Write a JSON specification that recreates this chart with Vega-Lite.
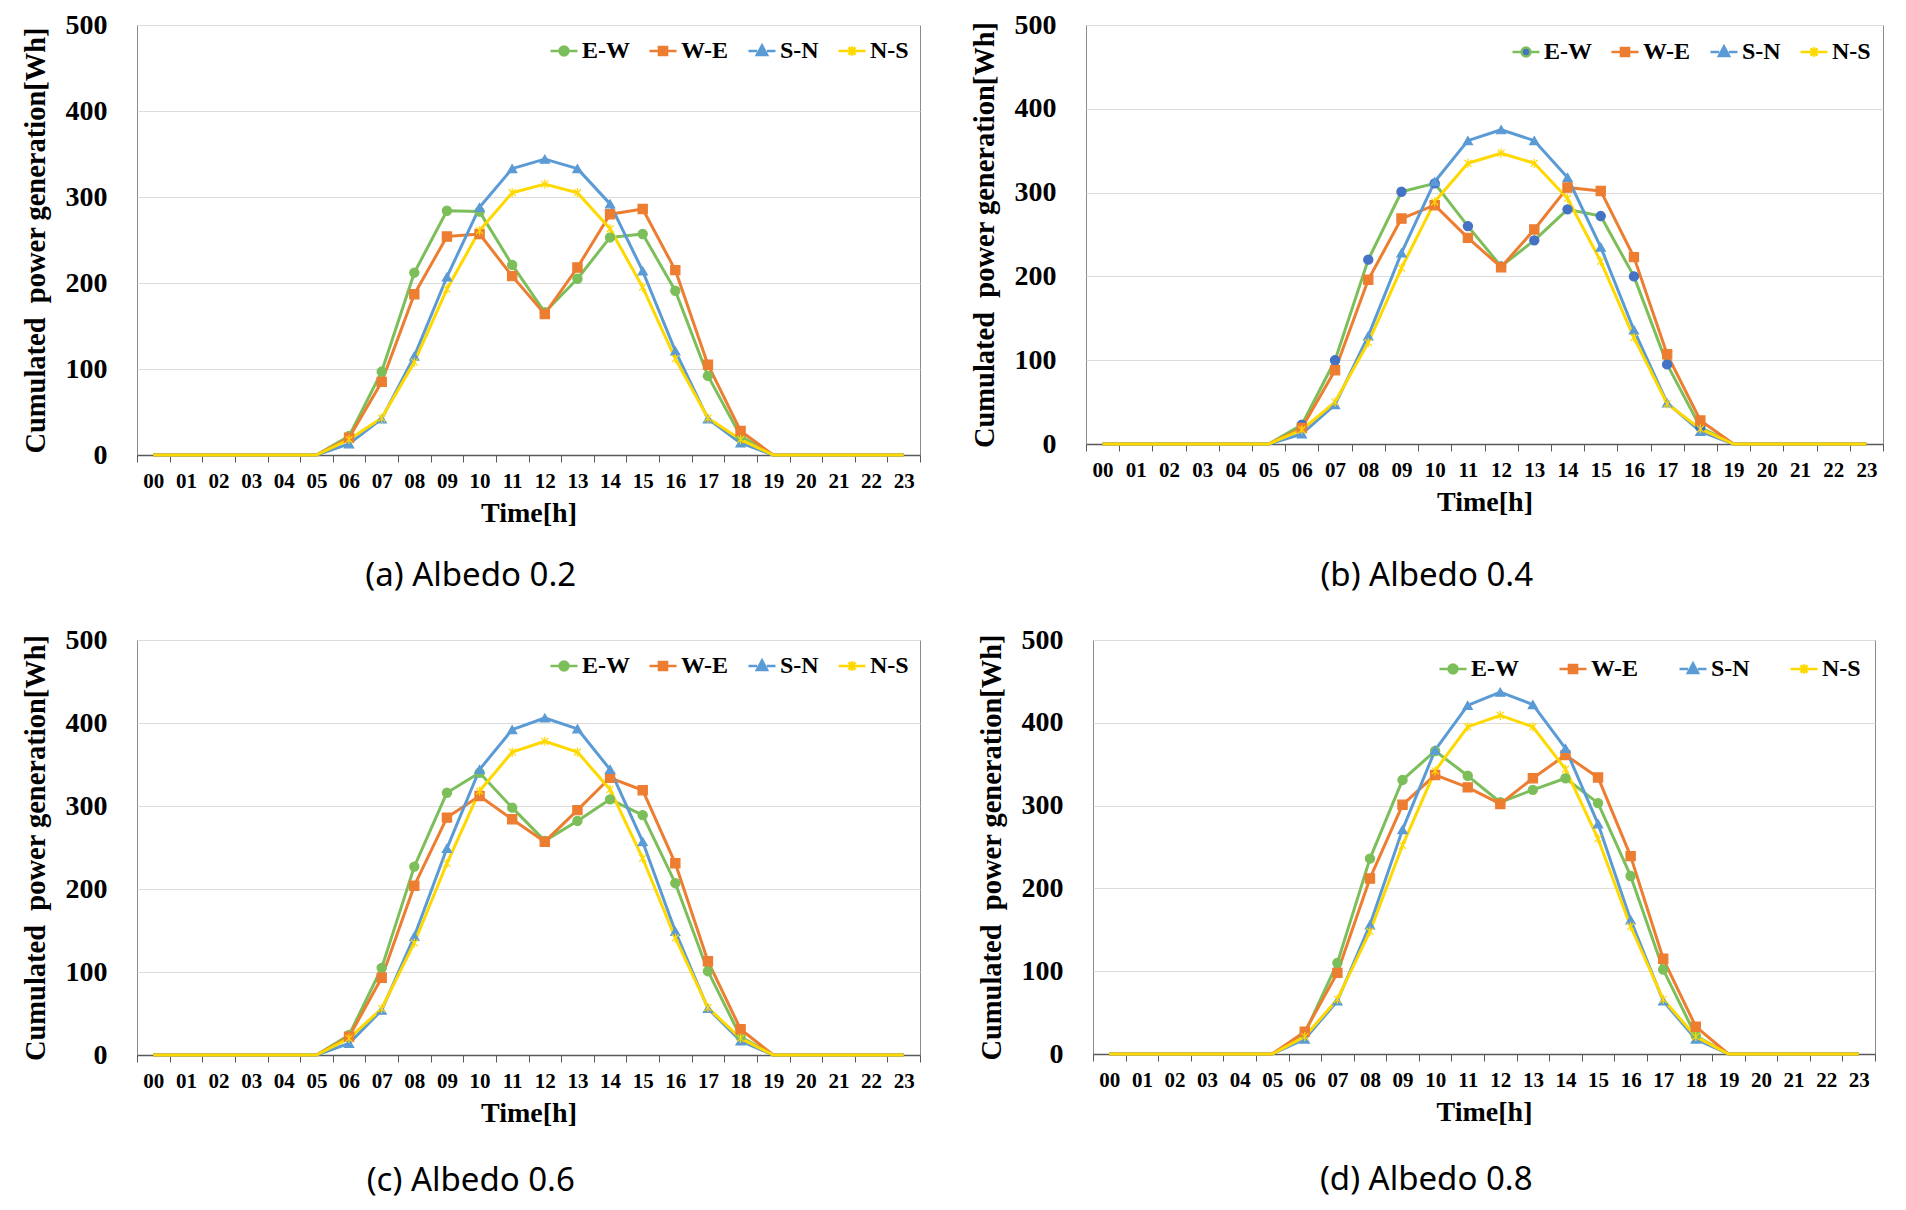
{
  "$schema": "https://vega.github.io/schema/vega-lite/v6.json",
  "background": "white",
  "padding": {"left": 20, "top": 10, "right": 5, "bottom": 5},
  "datasets": {
    "pv": [
      {"panel": "a", "hour": "00", "E-W": 0, "W-E": 0, "S-N": 0, "N-S": 0},
      {"panel": "a", "hour": "01", "E-W": 0, "W-E": 0, "S-N": 0, "N-S": 0},
      {"panel": "a", "hour": "02", "E-W": 0, "W-E": 0, "S-N": 0, "N-S": 0},
      {"panel": "a", "hour": "03", "E-W": 0, "W-E": 0, "S-N": 0, "N-S": 0},
      {"panel": "a", "hour": "04", "E-W": 0, "W-E": 0, "S-N": 0, "N-S": 0},
      {"panel": "a", "hour": "05", "E-W": 0, "W-E": 0, "S-N": 0, "N-S": 0},
      {"panel": "a", "hour": "06", "E-W": 22, "W-E": 20, "S-N": 13, "N-S": 18},
      {"panel": "a", "hour": "07", "E-W": 97, "W-E": 85, "S-N": 42, "N-S": 43},
      {"panel": "a", "hour": "08", "E-W": 212, "W-E": 187, "S-N": 115, "N-S": 108},
      {"panel": "a", "hour": "09", "E-W": 284, "W-E": 254, "S-N": 207, "N-S": 193},
      {"panel": "a", "hour": "10", "E-W": 283, "W-E": 257, "S-N": 288, "N-S": 261},
      {"panel": "a", "hour": "11", "E-W": 221, "W-E": 208, "S-N": 333, "N-S": 305},
      {"panel": "a", "hour": "12", "E-W": 166, "W-E": 164, "S-N": 344, "N-S": 315},
      {"panel": "a", "hour": "13", "E-W": 205, "W-E": 218, "S-N": 333, "N-S": 305},
      {"panel": "a", "hour": "14", "E-W": 253, "W-E": 280, "S-N": 292, "N-S": 263},
      {"panel": "a", "hour": "15", "E-W": 257, "W-E": 286, "S-N": 214, "N-S": 195},
      {"panel": "a", "hour": "16", "E-W": 191, "W-E": 215, "S-N": 121, "N-S": 112},
      {"panel": "a", "hour": "17", "E-W": 92, "W-E": 105, "S-N": 42, "N-S": 43},
      {"panel": "a", "hour": "18", "E-W": 22, "W-E": 28, "S-N": 14, "N-S": 18},
      {"panel": "a", "hour": "19", "E-W": 0, "W-E": 0, "S-N": 0, "N-S": 0},
      {"panel": "a", "hour": "20", "E-W": 0, "W-E": 0, "S-N": 0, "N-S": 0},
      {"panel": "a", "hour": "21", "E-W": 0, "W-E": 0, "S-N": 0, "N-S": 0},
      {"panel": "a", "hour": "22", "E-W": 0, "W-E": 0, "S-N": 0, "N-S": 0},
      {"panel": "a", "hour": "23", "E-W": 0, "W-E": 0, "S-N": 0, "N-S": 0},
      {"panel": "b", "hour": "00", "E-W": 0, "W-E": 0, "S-N": 0, "N-S": 0},
      {"panel": "b", "hour": "01", "E-W": 0, "W-E": 0, "S-N": 0, "N-S": 0},
      {"panel": "b", "hour": "02", "E-W": 0, "W-E": 0, "S-N": 0, "N-S": 0},
      {"panel": "b", "hour": "03", "E-W": 0, "W-E": 0, "S-N": 0, "N-S": 0},
      {"panel": "b", "hour": "04", "E-W": 0, "W-E": 0, "S-N": 0, "N-S": 0},
      {"panel": "b", "hour": "05", "E-W": 0, "W-E": 0, "S-N": 0, "N-S": 0},
      {"panel": "b", "hour": "06", "E-W": 23, "W-E": 19, "S-N": 12, "N-S": 17},
      {"panel": "b", "hour": "07", "E-W": 100, "W-E": 88, "S-N": 47, "N-S": 50},
      {"panel": "b", "hour": "08", "E-W": 220, "W-E": 196, "S-N": 129, "N-S": 121},
      {"panel": "b", "hour": "09", "E-W": 301, "W-E": 269, "S-N": 228, "N-S": 210},
      {"panel": "b", "hour": "10", "E-W": 311, "W-E": 285, "S-N": 313, "N-S": 289},
      {"panel": "b", "hour": "11", "E-W": 260, "W-E": 246, "S-N": 362, "N-S": 335},
      {"panel": "b", "hour": "12", "E-W": 212, "W-E": 211, "S-N": 375, "N-S": 347},
      {"panel": "b", "hour": "13", "E-W": 243, "W-E": 256, "S-N": 362, "N-S": 335},
      {"panel": "b", "hour": "14", "E-W": 280, "W-E": 306, "S-N": 318, "N-S": 293},
      {"panel": "b", "hour": "15", "E-W": 272, "W-E": 302, "S-N": 235, "N-S": 218},
      {"panel": "b", "hour": "16", "E-W": 200, "W-E": 223, "S-N": 136, "N-S": 127},
      {"panel": "b", "hour": "17", "E-W": 95, "W-E": 107, "S-N": 49, "N-S": 48},
      {"panel": "b", "hour": "18", "E-W": 20, "W-E": 28, "S-N": 15, "N-S": 18},
      {"panel": "b", "hour": "19", "E-W": 0, "W-E": 0, "S-N": 0, "N-S": 0},
      {"panel": "b", "hour": "20", "E-W": 0, "W-E": 0, "S-N": 0, "N-S": 0},
      {"panel": "b", "hour": "21", "E-W": 0, "W-E": 0, "S-N": 0, "N-S": 0},
      {"panel": "b", "hour": "22", "E-W": 0, "W-E": 0, "S-N": 0, "N-S": 0},
      {"panel": "b", "hour": "23", "E-W": 0, "W-E": 0, "S-N": 0, "N-S": 0},
      {"panel": "c", "hour": "00", "E-W": 0, "W-E": 0, "S-N": 0, "N-S": 0},
      {"panel": "c", "hour": "01", "E-W": 0, "W-E": 0, "S-N": 0, "N-S": 0},
      {"panel": "c", "hour": "02", "E-W": 0, "W-E": 0, "S-N": 0, "N-S": 0},
      {"panel": "c", "hour": "03", "E-W": 0, "W-E": 0, "S-N": 0, "N-S": 0},
      {"panel": "c", "hour": "04", "E-W": 0, "W-E": 0, "S-N": 0, "N-S": 0},
      {"panel": "c", "hour": "05", "E-W": 0, "W-E": 0, "S-N": 0, "N-S": 0},
      {"panel": "c", "hour": "06", "E-W": 24, "W-E": 22, "S-N": 14, "N-S": 20},
      {"panel": "c", "hour": "07", "E-W": 105, "W-E": 93, "S-N": 54, "N-S": 56},
      {"panel": "c", "hour": "08", "E-W": 227, "W-E": 204, "S-N": 143, "N-S": 135},
      {"panel": "c", "hour": "09", "E-W": 316, "W-E": 286, "S-N": 249, "N-S": 231},
      {"panel": "c", "hour": "10", "E-W": 340, "W-E": 312, "S-N": 344, "N-S": 318},
      {"panel": "c", "hour": "11", "E-W": 298, "W-E": 284, "S-N": 392, "N-S": 365},
      {"panel": "c", "hour": "12", "E-W": 258, "W-E": 257, "S-N": 406, "N-S": 378},
      {"panel": "c", "hour": "13", "E-W": 282, "W-E": 295, "S-N": 393, "N-S": 365},
      {"panel": "c", "hour": "14", "E-W": 308, "W-E": 334, "S-N": 344, "N-S": 320},
      {"panel": "c", "hour": "15", "E-W": 289, "W-E": 319, "S-N": 257, "N-S": 237},
      {"panel": "c", "hour": "16", "E-W": 207, "W-E": 231, "S-N": 149, "N-S": 141},
      {"panel": "c", "hour": "17", "E-W": 101, "W-E": 113, "S-N": 56, "N-S": 57},
      {"panel": "c", "hour": "18", "E-W": 22, "W-E": 31, "S-N": 17, "N-S": 20},
      {"panel": "c", "hour": "19", "E-W": 0, "W-E": 0, "S-N": 0, "N-S": 0},
      {"panel": "c", "hour": "20", "E-W": 0, "W-E": 0, "S-N": 0, "N-S": 0},
      {"panel": "c", "hour": "21", "E-W": 0, "W-E": 0, "S-N": 0, "N-S": 0},
      {"panel": "c", "hour": "22", "E-W": 0, "W-E": 0, "S-N": 0, "N-S": 0},
      {"panel": "c", "hour": "23", "E-W": 0, "W-E": 0, "S-N": 0, "N-S": 0},
      {"panel": "d", "hour": "00", "E-W": 0, "W-E": 0, "S-N": 0, "N-S": 0},
      {"panel": "d", "hour": "01", "E-W": 0, "W-E": 0, "S-N": 0, "N-S": 0},
      {"panel": "d", "hour": "02", "E-W": 0, "W-E": 0, "S-N": 0, "N-S": 0},
      {"panel": "d", "hour": "03", "E-W": 0, "W-E": 0, "S-N": 0, "N-S": 0},
      {"panel": "d", "hour": "04", "E-W": 0, "W-E": 0, "S-N": 0, "N-S": 0},
      {"panel": "d", "hour": "05", "E-W": 0, "W-E": 0, "S-N": 0, "N-S": 0},
      {"panel": "d", "hour": "06", "E-W": 25, "W-E": 27, "S-N": 18, "N-S": 21},
      {"panel": "d", "hour": "07", "E-W": 110, "W-E": 98, "S-N": 64, "N-S": 66},
      {"panel": "d", "hour": "08", "E-W": 236, "W-E": 212, "S-N": 156, "N-S": 148},
      {"panel": "d", "hour": "09", "E-W": 331, "W-E": 301, "S-N": 271, "N-S": 252},
      {"panel": "d", "hour": "10", "E-W": 366, "W-E": 337, "S-N": 367, "N-S": 342},
      {"panel": "d", "hour": "11", "E-W": 336, "W-E": 322, "S-N": 421, "N-S": 395},
      {"panel": "d", "hour": "12", "E-W": 304, "W-E": 302, "S-N": 437, "N-S": 409},
      {"panel": "d", "hour": "13", "E-W": 319, "W-E": 333, "S-N": 422, "N-S": 395},
      {"panel": "d", "hour": "14", "E-W": 333, "W-E": 361, "S-N": 369, "N-S": 344},
      {"panel": "d", "hour": "15", "E-W": 303, "W-E": 334, "S-N": 278, "N-S": 260},
      {"panel": "d", "hour": "16", "E-W": 215, "W-E": 239, "S-N": 162, "N-S": 154},
      {"panel": "d", "hour": "17", "E-W": 102, "W-E": 115, "S-N": 64, "N-S": 66},
      {"panel": "d", "hour": "18", "E-W": 22, "W-E": 33, "S-N": 18, "N-S": 21},
      {"panel": "d", "hour": "19", "E-W": 0, "W-E": 0, "S-N": 0, "N-S": 0},
      {"panel": "d", "hour": "20", "E-W": 0, "W-E": 0, "S-N": 0, "N-S": 0},
      {"panel": "d", "hour": "21", "E-W": 0, "W-E": 0, "S-N": 0, "N-S": 0},
      {"panel": "d", "hour": "22", "E-W": 0, "W-E": 0, "S-N": 0, "N-S": 0},
      {"panel": "d", "hour": "23", "E-W": 0, "W-E": 0, "S-N": 0, "N-S": 0}
    ]
  },
  "spacing": 31,
  "vconcat": [
    {
      "spacing": 48,
      "hconcat": [
        {
          "width": 783, "height": 430,
          "data": {"name": "pv"},
          "transform": [
            {"filter": "datum.panel == 'a'"},
            {"fold": ["E-W", "W-E", "S-N", "N-S"], "as": ["series", "value"]}
          ],
          "title": {"text": "(a) Albedo 0.2", "offset": 33},
          "encoding": {
            "x": {"field": "hour", "type": "ordinal", "title": "Time[h]", "scale": {"type": "band", "paddingInner": 0, "paddingOuter": 0}},
            "y": {"field": "value", "type": "quantitative", "title": "Cumulated\u00a0 power generation[Wh]", "scale": {"domain": [0, 500], "nice": false}, "axis": {"values": [0, 100, 200, 300, 400, 500]}}
          },
          "layer": [
            {
              "mark": {"type": "line", "strokeWidth": 3, "strokeJoin": "round"},
              "encoding": {"color": {"field": "series", "type": "nominal", "legend": null, "scale": {"domain": ["E-W", "W-E", "S-N", "N-S"], "range": ["#7cbf5a", "#ed7d31", "#5b9bd5", "#ffd800"]}}}
            },
            {
              "transform": [{"filter": "datum.value > 0"}],
              "mark": {"type": "point", "filled": true, "opacity": 1, "size": 85, "strokeWidth": 1.2},
              "encoding": {
                "fill": {"field": "series", "type": "nominal", "legend": null, "scale": {"domain": ["E-W", "W-E", "S-N", "N-S"], "range": ["#7cbf5a", "#ed7d31", "#5b9bd5", "#ffd800"]}},
                "stroke": {"field": "series", "type": "nominal", "legend": null, "scale": {"domain": ["E-W", "W-E", "S-N", "N-S"], "range": ["#7cbf5a", "#ed7d31", "#5b9bd5", "#ffd800"]}},
                "shape": {"field": "series", "type": "nominal", "legend": null, "scale": {"domain": ["E-W", "W-E", "S-N", "N-S"], "range": ["circle", "square", "triangle-up", "M-0.75,-0.75L0.75,0.75M-0.75,0.75L0.75,-0.75M0,-1V1"]}}
              }
            },
            {
              "transform": [{"filter": "false"}],
              "mark": {"type": "point", "filled": true, "opacity": 1},
              "encoding": {
                "fill": {"field": "series", "type": "nominal", "scale": {"domain": ["E-W", "W-E", "S-N", "N-S"], "range": ["#7cbf5a", "#ed7d31", "#5b9bd5", "#ffd800"]}, "legend": {"orient": "top-right", "offset": 11, "columnPadding": 14}},
                "stroke": {"field": "series", "type": "nominal", "scale": {"domain": ["E-W", "W-E", "S-N", "N-S"], "range": ["#7cbf5a", "#ed7d31", "#5b9bd5", "#ffd800"]}, "legend": {"orient": "top-right", "offset": 11, "columnPadding": 14}},
                "shape": {"field": "series", "type": "nominal", "scale": {"domain": ["E-W", "W-E", "S-N", "N-S"], "range": ["M-1,0H-0.33M0.33,0H1M0.33,0A0.33,0.33 0 1,1 -0.33,0A0.33,0.33 0 1,1 0.33,0Z", "M-1,0H-0.3M0.3,0H1M-0.3,-0.3H0.3V0.3H-0.3Z", "M-1,0H-0.36M0.36,0H1M0,-0.42L0.38,0.3H-0.38Z", "M-1,0H1M-0.26,-0.26L0.26,0.26M-0.26,0.26L0.26,-0.26M0,-0.36V0.36"]}, "legend": {"orient": "top-right", "offset": 11, "columnPadding": 14}}
              }
            }
          ],
          "resolve": {"scale": {"color": "independent", "fill": "independent", "stroke": "independent", "shape": "independent"}}
        },
        {
          "width": 797, "height": 419,
          "data": {"name": "pv"},
          "transform": [
            {"filter": "datum.panel == 'b'"},
            {"fold": ["E-W", "W-E", "S-N", "N-S"], "as": ["series", "value"]}
          ],
          "title": {"text": "(b) Albedo 0.4", "offset": 44},
          "encoding": {
            "x": {"field": "hour", "type": "ordinal", "title": "Time[h]", "scale": {"type": "band", "paddingInner": 0, "paddingOuter": 0}},
            "y": {"field": "value", "type": "quantitative", "title": "Cumulated\u00a0 power generation[Wh]", "scale": {"domain": [0, 500], "nice": false}, "axis": {"values": [0, 100, 200, 300, 400, 500]}}
          },
          "layer": [
            {
              "mark": {"type": "line", "strokeWidth": 3, "strokeJoin": "round"},
              "encoding": {"color": {"field": "series", "type": "nominal", "legend": null, "scale": {"domain": ["E-W", "W-E", "S-N", "N-S"], "range": ["#7cbf5a", "#ed7d31", "#5b9bd5", "#ffd800"]}}}
            },
            {
              "transform": [{"filter": "datum.value > 0"}],
              "mark": {"type": "point", "filled": true, "opacity": 1, "size": 85, "strokeWidth": 1.2},
              "encoding": {
                "fill": {"field": "series", "type": "nominal", "legend": null, "scale": {"domain": ["E-W", "W-E", "S-N", "N-S"], "range": ["#4472c4", "#ed7d31", "#5b9bd5", "#ffd800"]}},
                "stroke": {"field": "series", "type": "nominal", "legend": null, "scale": {"domain": ["E-W", "W-E", "S-N", "N-S"], "range": ["#4472c4", "#ed7d31", "#5b9bd5", "#ffd800"]}},
                "shape": {"field": "series", "type": "nominal", "legend": null, "scale": {"domain": ["E-W", "W-E", "S-N", "N-S"], "range": ["circle", "square", "triangle-up", "M-0.75,-0.75L0.75,0.75M-0.75,0.75L0.75,-0.75M0,-1V1"]}}
              }
            },
            {
              "transform": [{"filter": "false"}],
              "mark": {"type": "point", "filled": true, "opacity": 1},
              "encoding": {
                "fill": {"field": "series", "type": "nominal", "scale": {"domain": ["E-W", "W-E", "S-N", "N-S"], "range": ["#4472c4", "#ed7d31", "#5b9bd5", "#ffd800"]}, "legend": {"orient": "top-right", "offset": 12, "columnPadding": 14}},
                "stroke": {"field": "series", "type": "nominal", "scale": {"domain": ["E-W", "W-E", "S-N", "N-S"], "range": ["#7cbf5a", "#ed7d31", "#5b9bd5", "#ffd800"]}, "legend": {"orient": "top-right", "offset": 12, "columnPadding": 14}},
                "shape": {"field": "series", "type": "nominal", "scale": {"domain": ["E-W", "W-E", "S-N", "N-S"], "range": ["M-1,0H-0.33M0.33,0H1M0.33,0A0.33,0.33 0 1,1 -0.33,0A0.33,0.33 0 1,1 0.33,0Z", "M-1,0H-0.3M0.3,0H1M-0.3,-0.3H0.3V0.3H-0.3Z", "M-1,0H-0.36M0.36,0H1M0,-0.42L0.38,0.3H-0.38Z", "M-1,0H1M-0.26,-0.26L0.26,0.26M-0.26,0.26L0.26,-0.26M0,-0.36V0.36"]}, "legend": {"orient": "top-right", "offset": 12, "columnPadding": 14}}
              }
            }
          ],
          "resolve": {"scale": {"color": "independent", "fill": "independent", "stroke": "independent", "shape": "independent"}}
        }
      ]
    },
    {
      "spacing": 55,
      "hconcat": [
        {
          "width": 783, "height": 415,
          "data": {"name": "pv"},
          "transform": [
            {"filter": "datum.panel == 'c'"},
            {"fold": ["E-W", "W-E", "S-N", "N-S"], "as": ["series", "value"]}
          ],
          "title": {"text": "(c) Albedo 0.6", "offset": 38},
          "encoding": {
            "x": {"field": "hour", "type": "ordinal", "title": "Time[h]", "scale": {"type": "band", "paddingInner": 0, "paddingOuter": 0}},
            "y": {"field": "value", "type": "quantitative", "title": "Cumulated\u00a0 power generation[Wh]", "scale": {"domain": [0, 500], "nice": false}, "axis": {"values": [0, 100, 200, 300, 400, 500]}}
          },
          "layer": [
            {
              "mark": {"type": "line", "strokeWidth": 3, "strokeJoin": "round"},
              "encoding": {"color": {"field": "series", "type": "nominal", "legend": null, "scale": {"domain": ["E-W", "W-E", "S-N", "N-S"], "range": ["#7cbf5a", "#ed7d31", "#5b9bd5", "#ffd800"]}}}
            },
            {
              "transform": [{"filter": "datum.value > 0"}],
              "mark": {"type": "point", "filled": true, "opacity": 1, "size": 85, "strokeWidth": 1.2},
              "encoding": {
                "fill": {"field": "series", "type": "nominal", "legend": null, "scale": {"domain": ["E-W", "W-E", "S-N", "N-S"], "range": ["#7cbf5a", "#ed7d31", "#5b9bd5", "#ffd800"]}},
                "stroke": {"field": "series", "type": "nominal", "legend": null, "scale": {"domain": ["E-W", "W-E", "S-N", "N-S"], "range": ["#7cbf5a", "#ed7d31", "#5b9bd5", "#ffd800"]}},
                "shape": {"field": "series", "type": "nominal", "legend": null, "scale": {"domain": ["E-W", "W-E", "S-N", "N-S"], "range": ["circle", "square", "triangle-up", "M-0.75,-0.75L0.75,0.75M-0.75,0.75L0.75,-0.75M0,-1V1"]}}
              }
            },
            {
              "transform": [{"filter": "false"}],
              "mark": {"type": "point", "filled": true, "opacity": 1},
              "encoding": {
                "fill": {"field": "series", "type": "nominal", "scale": {"domain": ["E-W", "W-E", "S-N", "N-S"], "range": ["#7cbf5a", "#ed7d31", "#5b9bd5", "#ffd800"]}, "legend": {"orient": "top-right", "offset": 11, "columnPadding": 14}},
                "stroke": {"field": "series", "type": "nominal", "scale": {"domain": ["E-W", "W-E", "S-N", "N-S"], "range": ["#7cbf5a", "#ed7d31", "#5b9bd5", "#ffd800"]}, "legend": {"orient": "top-right", "offset": 11, "columnPadding": 14}},
                "shape": {"field": "series", "type": "nominal", "scale": {"domain": ["E-W", "W-E", "S-N", "N-S"], "range": ["M-1,0H-0.33M0.33,0H1M0.33,0A0.33,0.33 0 1,1 -0.33,0A0.33,0.33 0 1,1 0.33,0Z", "M-1,0H-0.3M0.3,0H1M-0.3,-0.3H0.3V0.3H-0.3Z", "M-1,0H-0.36M0.36,0H1M0,-0.42L0.38,0.3H-0.38Z", "M-1,0H1M-0.26,-0.26L0.26,0.26M-0.26,0.26L0.26,-0.26M0,-0.36V0.36"]}, "legend": {"orient": "top-right", "offset": 11, "columnPadding": 14}}
              }
            }
          ],
          "resolve": {"scale": {"color": "independent", "fill": "independent", "stroke": "independent", "shape": "independent"}}
        },
        {
          "width": 782, "height": 414,
          "data": {"name": "pv"},
          "transform": [
            {"filter": "datum.panel == 'd'"},
            {"fold": ["E-W", "W-E", "S-N", "N-S"], "as": ["series", "value"]}
          ],
          "title": {"text": "(d) Albedo 0.8", "offset": 38},
          "encoding": {
            "x": {"field": "hour", "type": "ordinal", "title": "Time[h]", "scale": {"type": "band", "paddingInner": 0, "paddingOuter": 0}},
            "y": {"field": "value", "type": "quantitative", "title": "Cumulated\u00a0 power generation[Wh]", "scale": {"domain": [0, 500], "nice": false}, "axis": {"values": [0, 100, 200, 300, 400, 500]}}
          },
          "layer": [
            {
              "mark": {"type": "line", "strokeWidth": 3, "strokeJoin": "round"},
              "encoding": {"color": {"field": "series", "type": "nominal", "legend": null, "scale": {"domain": ["E-W", "W-E", "S-N", "N-S"], "range": ["#7cbf5a", "#ed7d31", "#5b9bd5", "#ffd800"]}}}
            },
            {
              "transform": [{"filter": "datum.value > 0"}],
              "mark": {"type": "point", "filled": true, "opacity": 1, "size": 85, "strokeWidth": 1.2},
              "encoding": {
                "fill": {"field": "series", "type": "nominal", "legend": null, "scale": {"domain": ["E-W", "W-E", "S-N", "N-S"], "range": ["#7cbf5a", "#ed7d31", "#5b9bd5", "#ffd800"]}},
                "stroke": {"field": "series", "type": "nominal", "legend": null, "scale": {"domain": ["E-W", "W-E", "S-N", "N-S"], "range": ["#7cbf5a", "#ed7d31", "#5b9bd5", "#ffd800"]}},
                "shape": {"field": "series", "type": "nominal", "legend": null, "scale": {"domain": ["E-W", "W-E", "S-N", "N-S"], "range": ["circle", "square", "triangle-up", "M-0.75,-0.75L0.75,0.75M-0.75,0.75L0.75,-0.75M0,-1V1"]}}
              }
            },
            {
              "transform": [{"filter": "false"}],
              "mark": {"type": "point", "filled": true, "opacity": 1},
              "encoding": {
                "fill": {"field": "series", "type": "nominal", "scale": {"domain": ["E-W", "W-E", "S-N", "N-S"], "range": ["#7cbf5a", "#ed7d31", "#5b9bd5", "#ffd800"]}, "legend": {"orient": "top-right", "offset": 14, "columnPadding": 35}},
                "stroke": {"field": "series", "type": "nominal", "scale": {"domain": ["E-W", "W-E", "S-N", "N-S"], "range": ["#7cbf5a", "#ed7d31", "#5b9bd5", "#ffd800"]}, "legend": {"orient": "top-right", "offset": 14, "columnPadding": 35}},
                "shape": {"field": "series", "type": "nominal", "scale": {"domain": ["E-W", "W-E", "S-N", "N-S"], "range": ["M-1,0H-0.33M0.33,0H1M0.33,0A0.33,0.33 0 1,1 -0.33,0A0.33,0.33 0 1,1 0.33,0Z", "M-1,0H-0.3M0.3,0H1M-0.3,-0.3H0.3V0.3H-0.3Z", "M-1,0H-0.36M0.36,0H1M0,-0.42L0.38,0.3H-0.38Z", "M-1,0H1M-0.26,-0.26L0.26,0.26M-0.26,0.26L0.26,-0.26M0,-0.36V0.36"]}, "legend": {"orient": "top-right", "offset": 14, "columnPadding": 35}}
              }
            }
          ],
          "resolve": {"scale": {"color": "independent", "fill": "independent", "stroke": "independent", "shape": "independent"}}
        }
      ]
    }
  ],
  "config": {
    "font": "Liberation Serif",
    "view": {"stroke": "#8c8c8c", "strokeWidth": 1},
    "axis": {
      "labelFont": "Liberation Serif", "labelFontWeight": "bold", "labelColor": "#000000",
      "titleFont": "Liberation Serif", "titleFontWeight": "bold", "titleColor": "#000000"
    },
    "axisX": {
      "grid": false, "domainColor": "#595959", "domainWidth": 1.5,
      "ticks": true, "tickColor": "#595959", "tickSize": 7, "tickBand": "extent", "tickExtra": true,
      "labelAngle": 0, "labelFontSize": 21, "labelPadding": 8,
      "titleFontSize": 28, "titlePadding": 8
    },
    "axisY": {
      "grid": true, "gridColor": "#dcdcdc", "gridWidth": 1,
      "ticks": false, "domain": false,
      "labelFontSize": 28, "labelPadding": 30,
      "titleFontSize": 28.5, "titlePadding": 15
    },
    "legend": {
      "title": null, "direction": "horizontal", "columns": 4, "padding": 0,
      "labelFont": "Liberation Serif", "labelFontWeight": "bold", "labelFontSize": 24, "labelColor": "#000000",
      "labelOffset": 3, "symbolSize": 729, "symbolStrokeWidth": 2.5,
      "symbolFillColor": "#ffffff", "symbolStrokeColor": "#000000"
    },
    "title": {
      "font": "Noto Sans", "fontSize": 33, "fontWeight": "normal", "color": "#000000",
      "orient": "bottom", "anchor": "middle", "frame": "bounds"
    }
  }
}
